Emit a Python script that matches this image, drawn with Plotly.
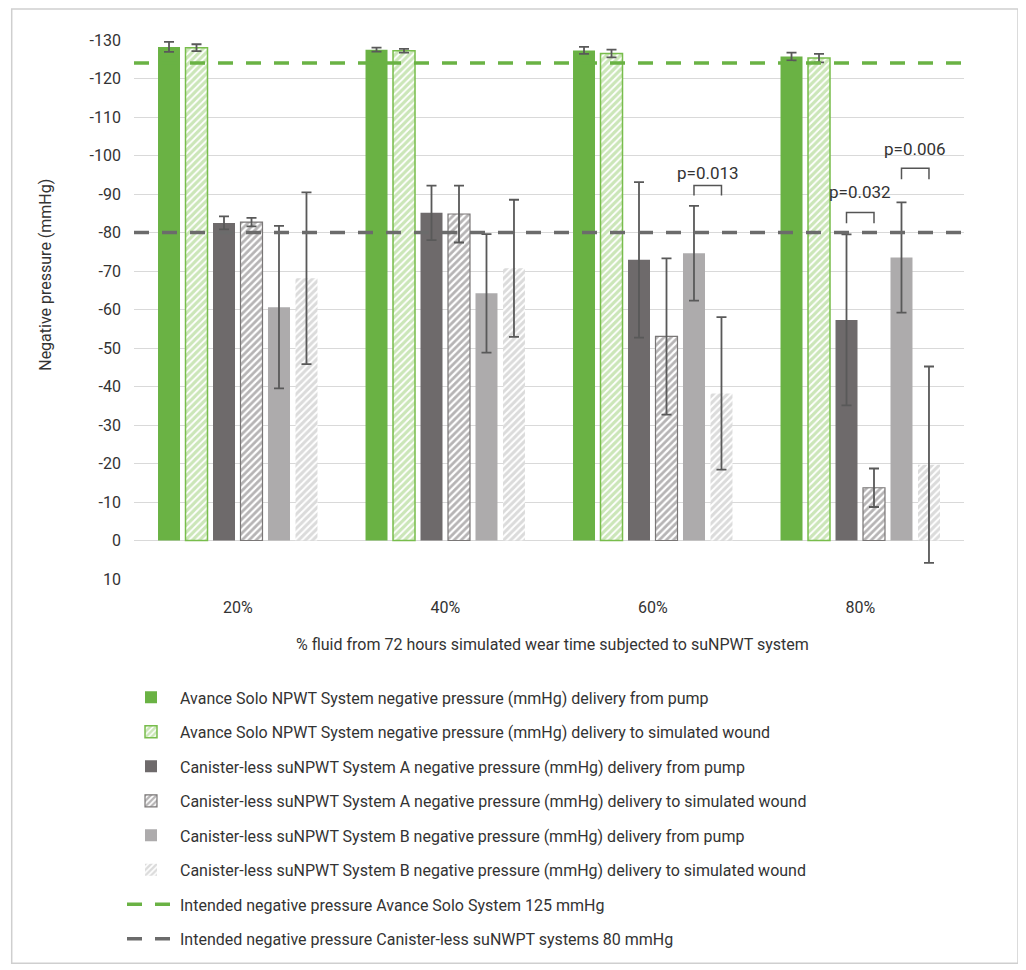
import plotly.graph_objects as go

# ---------------- data ----------------
categories = ["20%", "40%", "60%", "80%"]

series_names = [
    "Avance Solo NPWT System negative pressure (mmHg) delivery from pump",
    "Avance Solo NPWT System negative pressure (mmHg) delivery to simulated wound",
    "Canister-less suNPWT System A negative pressure (mmHg) delivery from pump",
    "Canister-less suNPWT System A negative pressure (mmHg) delivery to simulated wound",
    "Canister-less suNPWT System B negative pressure (mmHg) delivery from pump",
    "Canister-less suNPWT System B negative pressure (mmHg) delivery to simulated wound",
]

avance_pump = [-128.2, -127.5, -127.3, -125.7]
avance_pump_err = [1.3, 0.5, 0.9, 1.0]
avance_wound = [-128.0, -127.2, -126.5, -125.3]
avance_wound_err = [0.9, 0.5, 1.0, 1.1]
sysA_pump = [-82.5, -85.1, -72.9, -57.3]
sysA_pump_err = [1.7, 7.1, 20.2, 22.2]
sysA_wound = [-82.7, -84.8, -53.0, -13.7]
sysA_wound_err = [1.1, 7.4, 20.3, 5.0]
sysB_pump = [-60.6, -64.2, -74.6, -73.5]
sysB_pump_err = [21.1, 15.4, 12.3, 14.3]
sysB_wound = [-68.1, -70.7, -38.2, -19.7]
sysB_wound_err = [22.3, 17.8, 19.8, 25.5]

line_names = [
    "Intended negative pressure Avance Solo System 125 mmHg",
    "Intended negative pressure Canister-less suNWPT systems 80 mmHg",
]
intended_avance = -124
intended_canister = -80

y_tick_vals = [-130, -120, -110, -100, -90, -80, -70, -60, -50, -40, -30, -20, -10, 0, 10]
y_tick_text = ["-130", "-120", "-110", "-100", "-90", "-80", "-70", "-60", "-50",
               "-40", "-30", "-20", "-10", "0", "10"]

# significance brackets: (category index, bar i, bar j, bracket level, leg end, label, label y)
comparisons = [
    (2, 4, 5, -92.2, -89.6, "p=0.013", -95.4),
    (3, 2, 3, -85.2, -82.4, "p=0.032", -90.5),
    (3, 4, 5, -96.7, -93.8, "p=0.006", -101.8),
]

# ---------------- style ----------------
FONT = "Roboto, Lato, sans-serif"
FS = 16
TXT = "#333333"
GREEN = "#6ab244"
GREEN_LIGHT = "#98cd72"
DARK = "#6e6a6b"
LIGHT = "#adabac"
LIGHT_HATCH = "#b8b8b8"
ERR = "#595959"

BARGAP = 0.205
BARGROUPGAP = 0.2
N = len(series_names)

values = [avance_pump, avance_wound, sysA_pump, sysA_wound, sysB_pump, sysB_wound]
errors = [avance_pump_err, avance_wound_err, sysA_pump_err, sysA_wound_err,
          sysB_pump_err, sysB_wound_err]

styles = [
    dict(color=GREEN, line=dict(width=0)),
    dict(color=GREEN_LIGHT, line=dict(color="#78bd4c", width=1.5),
         pattern=dict(shape="/", fgcolor=GREEN_LIGHT, bgcolor="white", size=5, solidity=0.65)),
    dict(color=DARK, line=dict(width=0)),
    dict(color=DARK, line=dict(color="#7a7777", width=1.2),
         pattern=dict(shape="/", fgcolor=DARK, bgcolor="white", size=5, solidity=0.55)),
    dict(color=LIGHT, line=dict(width=0)),
    dict(color=LIGHT_HATCH, line=dict(width=0),
         pattern=dict(shape="/", fgcolor=LIGHT_HATCH, bgcolor="white", size=5, solidity=0.6)),
]

x_pos = list(range(len(categories)))
x_range = [-0.5, len(categories) - 0.5]

fig = go.Figure()

for k in range(N):
    fig.add_trace(go.Bar(
        x=x_pos, y=values[k], name=series_names[k],
        marker=styles[k], legendgroup=f"g{k}",
        error_y=dict(type="data", array=errors[k], color=ERR, thickness=1.8, width=5),
    ))

fig.add_trace(go.Scatter(
    x=x_range, y=[intended_avance] * 2, mode="lines", name=line_names[0],
    line=dict(color=GREEN, width=3.5, dash="15px,13px"), legendgroup="l1"))
fig.add_trace(go.Scatter(
    x=x_range, y=[intended_canister] * 2, mode="lines", name=line_names[1],
    line=dict(color="#6b6b6b", width=3.5, dash="15px,13px"), legendgroup="l2"))


def bar_center(cat, i):
    group = 1 - BARGAP
    slot = group / N
    return cat - group / 2 + (i + 0.5) * slot


annotations = []
for n, (cat, i, j, level, leg, label, ly) in enumerate(comparisons):
    xi, xj = bar_center(cat, i), bar_center(cat, j)
    fig.add_trace(go.Scatter(
        x=[xi, xi, xj, xj], y=[leg, level, level, leg], mode="lines",
        line=dict(color="#555555", width=1.5), showlegend=False, hoverinfo="skip",
        legendgroup=f"b{n}"))
    annotations.append(dict(x=(xi + xj) / 2, y=ly, xref="x", yref="y", text=label,
                            showarrow=False, font=dict(size=FS + 1, color=TXT, family=FONT),
                            xanchor="center", yanchor="middle"))

# layout geometry (page has an 8px body margin; figure is drawn from (8, 8))
OFF = 8
W, H = 1026 - OFF, 970 - OFF
PLOT_L, PLOT_R, PLOT_T, PLOT_B = 134, 964, 40, 579.5   # page pixel coords of the plot area
ML, MR, MT, MB = PLOT_L - OFF, W - (PLOT_R - OFF), PLOT_T - OFF, H - (PLOT_B - OFF)
PW, PH = W - ML - MR, H - MT - MB


def px_x(p):
    return (p - PLOT_L) / PW


def px_y(p):
    return (PLOT_B - p) / PH


annotations.append(dict(x=px_x(46), y=px_y(275), xref="paper", yref="paper",
                        text="Negative pressure (mmHg)", textangle=-90, showarrow=False,
                        font=dict(size=FS, color=TXT, family=FONT),
                        xanchor="center", yanchor="middle"))
annotations.append(dict(x=px_x(552), y=px_y(645), xref="paper", yref="paper",
                        text="% fluid from 72 hours simulated wear time subjected to suNPWT system",
                        showarrow=False, font=dict(size=FS, color=TXT, family=FONT),
                        xanchor="center", yanchor="middle"))

fig.update_layout(
    width=W, height=H,
    margin=dict(l=ML, r=MR, t=MT, b=MB, autoexpand=False),
    paper_bgcolor="white", plot_bgcolor="white",
    barmode="group", bargap=BARGAP, bargroupgap=BARGROUPGAP,
    font=dict(family=FONT, size=FS, color=TXT),
    showlegend=True,
    legend=dict(orientation="v", x=px_x(122), y=px_y(681), xanchor="left", yanchor="top",
                font=dict(size=FS, color=TXT, family=FONT), itemwidth=48,
                tracegroupgap=10.7, bgcolor="rgba(0,0,0,0)", traceorder="grouped"),
    annotations=annotations,
    shapes=[dict(type="rect", xref="paper", yref="paper",
                 x0=px_x(11.7), x1=px_x(1018), y0=px_y(964), y1=px_y(9),
                 line=dict(color="#cfcfcf", width=1.5), fillcolor="rgba(0,0,0,0)",
                 layer="below")],
)

fig.update_xaxes(range=x_range, tickvals=x_pos, ticktext=categories, showgrid=False,
                 zeroline=False, showline=False, ticks="", ticklabelstandoff=17,
                 tickfont=dict(size=FS, color=TXT, family=FONT))
fig.update_yaxes(range=[10, -130], tickvals=y_tick_vals, ticktext=y_tick_text,
                 showgrid=True, gridcolor="#d9d9d9", gridwidth=1.4, zeroline=False,
                 showline=False, ticks="", ticklabelstandoff=12,
                 tickfont=dict(size=FS, color=TXT, family=FONT))

fig.write_html("out.html")
